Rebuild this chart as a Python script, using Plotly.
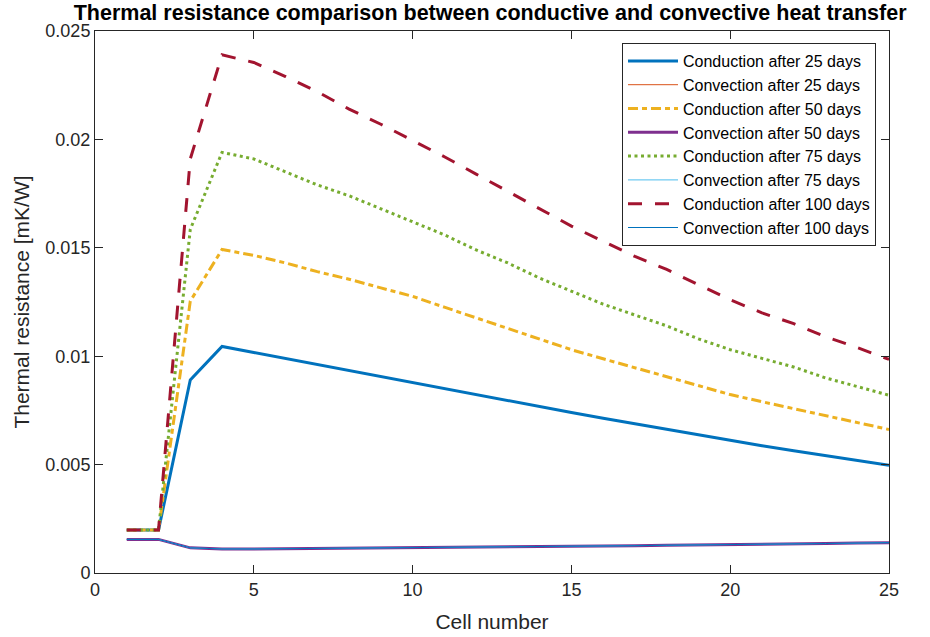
import plotly.graph_objects as go

cells = list(range(1, 26))

cond_25 = [0.00198, 0.00198, 0.0089, 0.01045, 0.01017, 0.00989, 0.00961, 0.00933, 0.00905, 0.00877,
           0.0085, 0.00822, 0.00795, 0.00767, 0.0074, 0.00714, 0.00688, 0.00662, 0.00636, 0.0061,
           0.00587, 0.00564, 0.00542, 0.0052, 0.00497]
cond_50 = [0.00198, 0.00198, 0.01254, 0.01492, 0.01465, 0.0143, 0.0139, 0.01355, 0.01315, 0.01276,
           0.01226, 0.01177, 0.01128, 0.01079, 0.0103, 0.00988, 0.00947, 0.00905, 0.00864, 0.00823,
           0.0079, 0.00758, 0.00726, 0.00694, 0.00662]
cond_75 = [0.00198, 0.00198, 0.01585, 0.0194, 0.0191, 0.0185, 0.0179, 0.0174, 0.0168, 0.0162,
           0.0156, 0.0149, 0.0143, 0.0136, 0.0130, 0.0124, 0.0119, 0.0114, 0.0108, 0.0103,
           0.0099, 0.0095, 0.0090, 0.0086, 0.0082]
cond_100 = [0.00198, 0.00198, 0.0191, 0.0239, 0.02355, 0.0229, 0.0222, 0.0214, 0.0207, 0.01995,
            0.0192, 0.0184, 0.0176, 0.0168, 0.0160, 0.0153, 0.0146, 0.0140, 0.0133, 0.0126,
            0.0120, 0.0115, 0.0109, 0.0104, 0.00985]
conv_base = [0.00155, 0.00155, 0.00116, 0.00111, 0.00111, 0.00112, 0.00113, 0.00114, 0.00115, 0.00116,
             0.00118, 0.00119, 0.0012, 0.00122, 0.00123, 0.00125, 0.00126, 0.00128, 0.00129, 0.00131,
             0.00132, 0.00134, 0.00136, 0.00138, 0.0014]
conv_25 = list(conv_base)
conv_50 = list(conv_base)
conv_75 = list(conv_base)
conv_100 = list(conv_base)

y_ticks = [0, 0.005, 0.01, 0.015, 0.02, 0.025]
y_tick_text = ["0", "0.005", "0.01", "0.015", "0.02", "0.025"]
x_ticks = [0, 5, 10, 15, 20, 25]

series = [
    ("Conduction after 25 days", cond_25, "#0072BD", 3, "solid"),
    ("Convection after 25 days", conv_25, "#D95319", 1, "solid"),
    ("Conduction after 50 days", cond_50, "#EDB120", 3, "10px,4px,5px,4px"),
    ("Convection after 50 days", conv_50, "#7E2F8E", 3, "solid"),
    ("Conduction after 75 days", cond_75, "#77AC30", 3, "3px,3.5px"),
    ("Convection after 75 days", conv_75, "#4DBEEE", 1, "solid"),
    ("Conduction after 100 days", cond_100, "#A2142F", 3, "14px,13px"),
    ("Convection after 100 days", conv_100, "#0072BD", 1, "solid"),
]

fig = go.Figure()
for name, vals, color, width, dash in series:
    fig.add_trace(go.Scatter(x=cells, y=vals, mode="lines", name=name,
                             line=dict(color=color, width=width, dash=dash)))

font_family = "Liberation Sans, Arial, sans-serif"
axis_common = dict(showline=True, linecolor="#262626", linewidth=1, mirror="ticks",
                   ticks="inside", ticklen=8, tickcolor="#262626", showgrid=False,
                   zeroline=False, automargin=False,
                   tickfont=dict(size=18, color="#262626", family=font_family))

fig.update_layout(
    width=930, height=637,
    margin=dict(l=95, r=41, t=31, b=64),
    paper_bgcolor="white", plot_bgcolor="white",
    font=dict(family=font_family, color="#262626"),
    title=dict(text="<b>Thermal resistance comparison between conductive and convective heat transfer</b>",
               x=0.527, xref="container", xanchor="center",
               y=1 - 12 / 637, yref="container", yanchor="middle",
               font=dict(size=21.5, color="black", family=font_family)),
    xaxis=dict(range=[0, 25], tickvals=x_ticks,
               title=dict(text="Cell number", font=dict(size=21, color="#262626"), standoff=15),
               **axis_common),
    yaxis=dict(range=[0, 0.025], tickvals=y_ticks, ticktext=y_tick_text,
               title=dict(text="Thermal resistance [mK/W]", font=dict(size=21, color="#262626"), standoff=10),
               **axis_common),
    legend=dict(x=(876 - 95) / 794, xanchor="right", y=(573 - 43) / 542, yanchor="top",
                bgcolor="white", bordercolor="#262626", borderwidth=1,
                font=dict(size=16, color="black", family=font_family),
                itemwidth=50, tracegroupgap=0),
    showlegend=True,
)

fig.write_html("out.html")
